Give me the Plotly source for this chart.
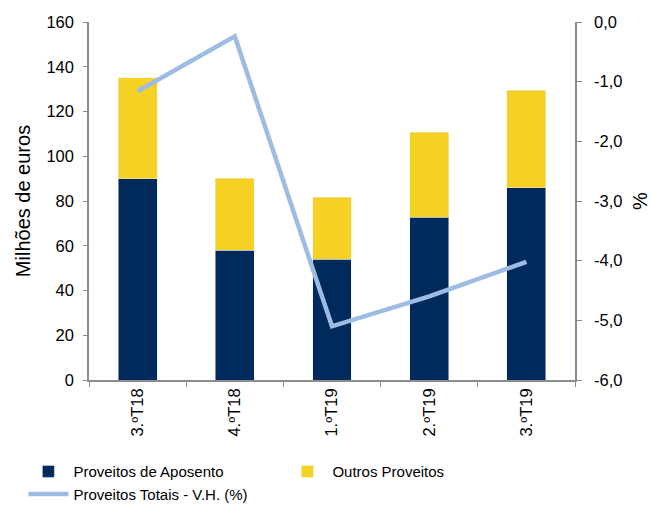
import plotly.graph_objects as go

quarters = ["3.ºT18", "4.ºT18", "1.ºT19", "2.ºT19", "3.ºT19"]
aposento = [90, 58, 54, 72.7, 86]
outros = [45, 32.2, 27.6, 38, 43.5]
vh_pct = [-1.16, -0.24, -5.1, -4.6, -4.02]

left_ticks = [0, 20, 40, 60, 80, 100, 120, 140, 160]
right_ticks = [0, -1, -2, -3, -4, -5, -6]
right_labels = ["0,0", "-1,0", "-2,0", "-3,0", "-4,0", "-5,0", "-6,0"]

font = dict(family="Liberation Sans, Arial", size=16.5, color="#000000")
axis_grey = "#8C8C8C"

fig = go.Figure()
fig.add_trace(go.Bar(x=quarters, y=aposento, name="Proveitos de Aposento",
                     marker=dict(color="#002A5C"), width=0.4))
fig.add_trace(go.Bar(x=quarters, y=outros, name="Outros Proveitos",
                     marker=dict(color="#F4D123"), width=0.4))
fig.add_trace(go.Scatter(x=quarters, y=vh_pct, name="Proveitos Totais - V.H. (%)",
                         mode="lines", yaxis="y2",
                         line=dict(color="#9DBCE3", width=4.5)))

fig.update_layout(
    width=651, height=507,
    barmode="stack",
    plot_bgcolor="white", paper_bgcolor="white",
    font=font,
    margin=dict(l=89, r=76, t=22, b=127, autoexpand=False),
    showlegend=True,
    legend=dict(orientation="h", x=-0.135, y=-0.21, xanchor="left", yanchor="top",
                entrywidth=204, entrywidthmode="pixels", traceorder="normal",
                font=dict(size=15), tracegroupgap=0, itemwidth=40),
    xaxis=dict(type="category", tickangle=-90, ticks="outside", tickson="boundaries",
               ticklen=5, tickcolor=axis_grey, showline=True, linecolor=axis_grey,
               linewidth=1.5, showgrid=False),
    yaxis=dict(range=[0, 160], tickvals=left_ticks, ticks="outside", ticklen=4,
               ticklabelstandoff=6,
               tickcolor=axis_grey, showline=True, linecolor=axis_grey, linewidth=1.5,
               showgrid=False, zeroline=False,
               title=dict(text="Milhões de euros", standoff=10)),
    yaxis2=dict(range=[-6, 0], tickvals=right_ticks, ticktext=right_labels,
                overlaying="y",
                side="right", ticks="outside", ticklen=5, tickcolor=axis_grey,
                ticklabelstandoff=9,
                showline=True, linecolor=axis_grey, linewidth=1.5, showgrid=False,
                zeroline=False, title=dict(text="%", standoff=15)),
)

fig.write_html("out.html", config={"displayModeBar": False},
               post_script="document.body.style.margin='0';")
